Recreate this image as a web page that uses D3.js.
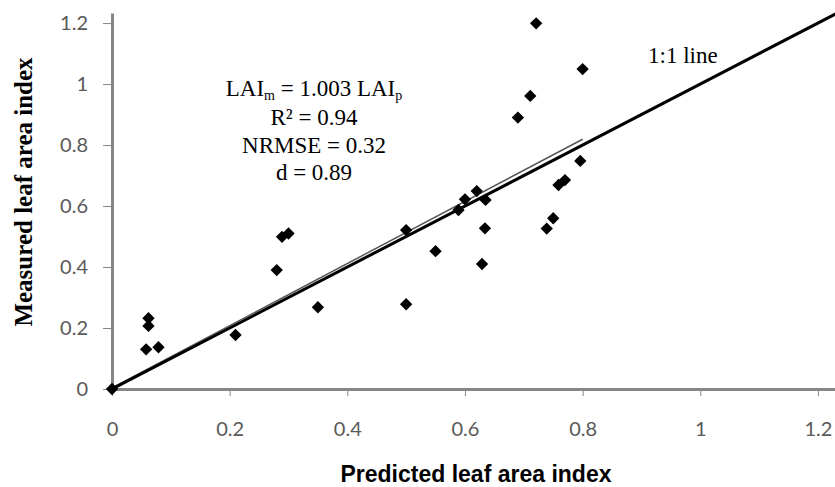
<!DOCTYPE html>
<html lang="en">
<head>
<meta charset="utf-8">
<title>Measured vs predicted LAI</title>
<script src="https://d3js.org/d3.v7.min.js"></script>
<style>
  body { margin: 0; background: #fff; }
  svg { display: block; }
</style>
</head>
<body>
<script>
// predicted (x) and measured (y) leaf area index
var predicted = [0, 0.062, 0.062, 0.058, 0.079, 0.21, 0.28, 0.289, 0.30, 0.35,
                 0.50, 0.50, 0.55, 0.589, 0.60, 0.62, 0.635, 0.634, 0.629,
                 0.69, 0.711, 0.721, 0.739, 0.75, 0.759, 0.77, 0.796, 0.80];
var measured  = [0, 0.232, 0.207, 0.130, 0.137, 0.177, 0.390, 0.499, 0.510, 0.268,
                 0.521, 0.278, 0.452, 0.587, 0.622, 0.649, 0.620, 0.527, 0.410,
                 0.890, 0.961, 1.199, 0.526, 0.560, 0.669, 0.685, 0.748, 1.049];
var tickValues = [0, 0.2, 0.4, 0.6, 0.8, 1, 1.2];
var oneToOne = [[0, 0], [1.25, 1.25]];
var trendLine = [[0, 0], [0.8, 0.815]];
var statsLines = ["R\u00B2 = 0.94", "NRMSE = 0.32", "d = 0.89"];

var w = 835, h = 487;
var svg = d3.select("body").append("svg").attr("width", w).attr("height", h);

var x = d3.scaleLinear().domain([0, 1.229]).range([112, 835]);
var y = d3.scaleLinear().domain([0, 1.233]).range([389, 13]);

// lines
var line = d3.line().x(function(d) { return x(d[0]); }).y(function(d) { return y(d[1]); });
svg.append("clipPath").attr("id", "clip").append("rect")
  .attr("x", 112).attr("y", 0).attr("width", w - 112).attr("height", 389);

svg.append("path").datum(trendLine).attr("d", line)
  .attr("fill", "none").attr("stroke", "#555").attr("stroke-width", 1.5)
  .attr("transform", "translate(0,-1.2)");
svg.append("path").datum(oneToOne).attr("d", line)
  .attr("clip-path", "url(#clip)")
  .attr("fill", "none").attr("stroke", "#000").attr("stroke-width", 3);

// axes
var xAxis = d3.axisBottom(x).tickValues(tickValues).tickSize(7).tickSizeOuter(0).tickPadding(26)
  .tickFormat(d3.format("~g"));
var yAxis = d3.axisLeft(y).tickValues(tickValues).tickSize(9).tickSizeOuter(0).tickPadding(15)
  .tickFormat(d3.format("~g"));

var gx = svg.append("g").attr("transform", "translate(0,389)").call(xAxis);
var gy = svg.append("g").attr("transform", "translate(112,0)").call(yAxis);
[gx, gy].forEach(function(g) {
  g.select(".domain").attr("stroke", "#868686").attr("stroke-width", 3);
  g.selectAll(".tick line").attr("stroke", "#868686").attr("stroke-width", 1);
  g.selectAll(".tick text").attr("fill", "#595959")
    .attr("font-family", "Lato, 'Open Sans', sans-serif").attr("font-size", 20);
});

// points
svg.append("g").selectAll("path")
  .data(predicted.map(function(p, i) { return [p, measured[i]]; }))
  .enter().append("path")
  .attr("d", d3.symbol().type(d3.symbolSquare).size(76))
  .attr("transform", function(d) {
    return "translate(" + x(d[0]) + "," + y(d[1]) + ") rotate(45)";
  })
  .attr("fill", "#000");

// axis titles
svg.append("text").text("Predicted leaf area index")
  .attr("x", 476).attr("y", 482).attr("text-anchor", "middle")
  .attr("font-family", "'Liberation Sans', Arial, sans-serif")
  .attr("font-weight", "bold").attr("font-size", 23).attr("fill", "#000");

svg.append("text").text("Measured leaf area index")
  .attr("transform", "translate(32,192) rotate(-90)").attr("text-anchor", "middle")
  .attr("font-family", "'Liberation Serif', 'Times New Roman', serif")
  .attr("font-weight", "bold").attr("font-size", 25).attr("fill", "#000");

// annotations
var serif = "'Liberation Serif', 'Times New Roman', serif";
var eq = svg.append("text").attr("x", 314).attr("y", 96).attr("text-anchor", "middle")
  .attr("font-family", serif).attr("font-size", 23).attr("fill", "#000");
eq.append("tspan").text("LAI");
eq.append("tspan").text("m").attr("font-size", 14).attr("dy", 4);
eq.append("tspan").text(" = 1.003 LAI").attr("dy", -4);
eq.append("tspan").text("p").attr("font-size", 14).attr("dy", 4);

svg.append("g").selectAll("text").data(statsLines).enter().append("text")
  .text(function(d) { return d; })
  .attr("x", 314).attr("y", function(d, i) { return 125 + i * 27.5; })
  .attr("text-anchor", "middle")
  .attr("font-family", serif).attr("font-size", 23).attr("fill", "#000");

svg.append("text").text("1:1 line").attr("x", 648).attr("y", 63)
  .attr("font-family", serif).attr("font-size", 23).attr("fill", "#000");
</script>
</body>
</html>
